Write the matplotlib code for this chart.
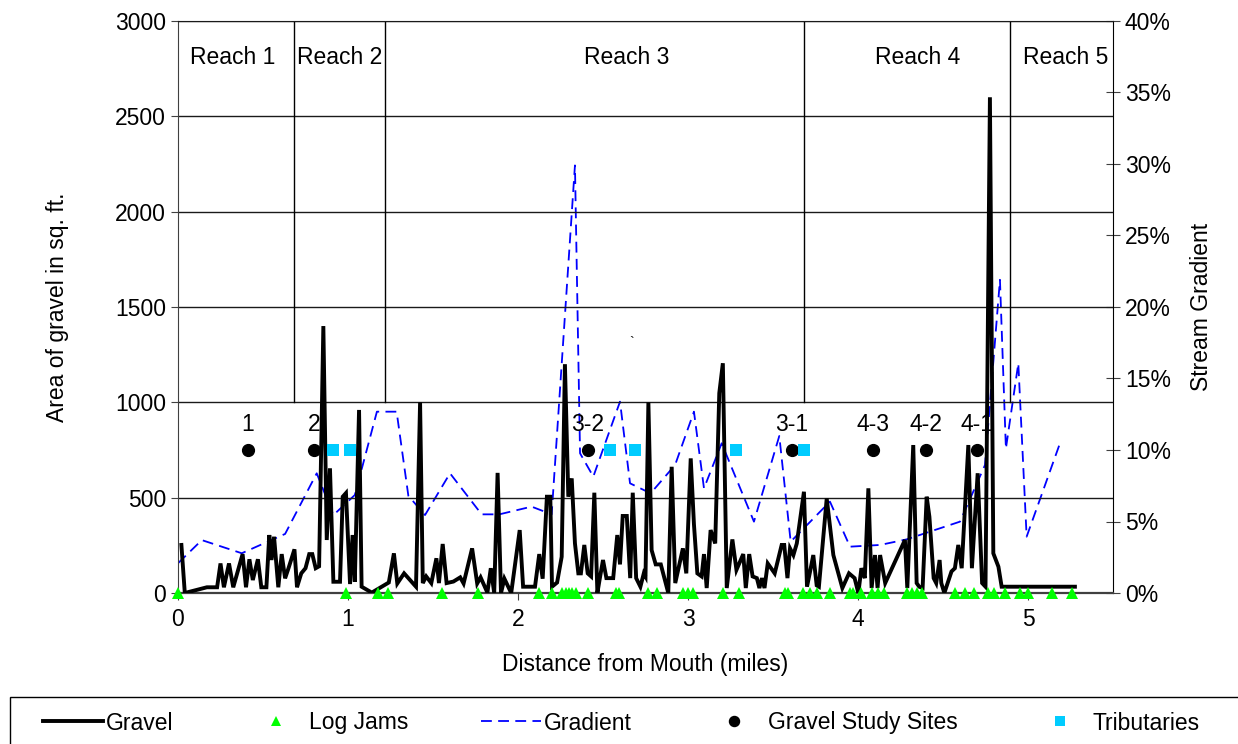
import matplotlib
matplotlib.use('Agg')
import matplotlib.pyplot as plt
from matplotlib.patches import Rectangle
from matplotlib.ticker import FuncFormatter, MultipleLocator

plt.rcParams['font.family'] = ['Liberation Sans', 'DejaVu Sans']

# ---------------- data ----------------
gravel_miles = [0.02, 0.04, 0.17, 0.23, 0.25, 0.27, 0.30, 0.325, 0.38, 0.40, 0.42, 0.44, 0.47, 0.49,
                0.52, 0.537, 0.55, 0.565, 0.59, 0.61, 0.63, 0.65, 0.685, 0.70, 0.725, 0.75, 0.772,
                0.79, 0.81, 0.83, 0.855, 0.875, 0.894, 0.914, 0.953, 0.969, 0.988, 1.012, 1.027,
                1.04, 1.065, 1.08, 1.14, 1.24, 1.27, 1.29, 1.33, 1.40, 1.424, 1.44, 1.46, 1.49,
                1.52, 1.535, 1.557, 1.58, 1.62, 1.66, 1.68, 1.73, 1.76, 1.78, 1.82, 1.84, 1.86,
                1.88, 1.90, 1.92, 1.96, 2.01, 2.03, 2.10, 2.125, 2.145, 2.17, 2.19, 2.20, 2.23,
                2.257, 2.276, 2.296, 2.316, 2.335, 2.355, 2.37, 2.39, 2.41, 2.43, 2.449, 2.467,
                2.48, 2.50, 2.52, 2.56, 2.584, 2.60, 2.616, 2.64, 2.66, 2.675, 2.695, 2.72, 2.74,
                2.75, 2.767, 2.786, 2.81, 2.84, 2.884, 2.904, 2.925, 2.97, 2.99, 3.016, 3.035,
                3.055, 3.08, 3.094, 3.11, 3.133, 3.16, 3.184, 3.205, 3.228, 3.261, 3.285, 3.325,
                3.34, 3.36, 3.38, 3.405, 3.42, 3.435, 3.45, 3.469, 3.51, 3.551, 3.566, 3.585,
                3.60, 3.62, 3.64, 3.682, 3.70, 3.72, 3.737, 3.757, 3.77, 3.816, 3.855, 3.908,
                3.947, 3.98, 4.002, 4.02, 4.04, 4.061, 4.08, 4.10, 4.115, 4.13, 4.16, 4.276,
                4.29, 4.325, 4.345, 4.36, 4.38, 4.404, 4.42, 4.445, 4.46, 4.48, 4.49, 4.508,
                4.55, 4.57, 4.59, 4.61, 4.649, 4.67, 4.704, 4.73, 4.75, 4.776, 4.796, 4.826,
                4.845, 5.276]
gravel_sqft = [252, 0, 30, 30, 155, 30, 155, 30, 204, 30, 177, 68, 177, 30,
               30, 304, 173, 295, 30, 204, 77, 130, 229, 30, 103, 130, 204,
               204, 130, 140, 1400, 278, 654, 59, 59, 505, 524, 47, 304,
               59, 960, 33, 2, 55, 208, 50, 103, 33, 1000, 52, 87, 52,
               182, 52, 257, 52, 60, 82, 50, 234, 50, 82, 2, 130, 0,
               630, 0, 75, 0, 330, 33, 33, 204, 75, 505, 505, 33, 55,
               190, 1200, 505, 601, 260, 103, 103, 252, 103, 87, 526, 0,
               70, 173, 78, 78, 304, 150, 404, 404, 78, 526, 78, 33, 103,
               87, 1000, 225, 150, 150, 0, 662, 52, 234, 103, 706, 360,
               103, 87, 204, 26, 330, 260, 1048, 1205, 26, 281, 121, 204,
               26, 204, 87, 78, 26, 78, 26, 155, 103, 252, 252, 78,
               234, 199, 260, 531, 33, 121, 199, 40, 33, 496, 199, 26,
               103, 78, 0, 130, 78, 549, 26, 199, 26, 199, 52, 278,
               26, 776, 52, 33, 26, 505, 400, 78, 52, 173, 52, 0,
               113, 130, 252, 130, 776, 130, 628, 52, 33, 2600, 208, 138,
               33, 33]

gradient_miles = [0.0, 0.14, 0.375, 0.63, 0.816, 0.914, 1.04, 1.17, 1.286, 1.355, 1.453, 1.60,
                  1.786, 1.89, 2.08, 2.198, 2.335, 2.365, 2.443, 2.60, 2.659, 2.78, 2.924,
                  3.035, 3.094, 3.198, 3.388, 3.537, 3.604, 3.835, 3.953, 4.13, 4.286, 4.60,
                  4.747, 4.835, 4.87, 4.943, 4.992, 5.188]
gradient_pct = [2.08, 3.7, 2.78, 4.13, 8.37, 5.45, 6.85, 12.68, 12.68, 6.8, 5.45, 8.37,
                5.5, 5.5, 6.04, 5.5, 29.9, 9.77, 8.14, 13.38, 7.67, 6.97, 8.95,
                12.68, 7.32, 10.47, 4.99, 10.98, 3.59, 6.39, 3.24, 3.36, 3.75, 4.99,
                8.95, 21.9, 10.1, 16.06, 3.94, 10.47]

logjam_miles = [0.0, 0.988, 1.178, 1.237, 1.555, 1.767, 2.125, 2.198, 2.26, 2.28, 2.30, 2.32,
                2.34, 2.41, 2.575, 2.595, 2.766, 2.82, 2.97, 3.0, 3.03, 3.204, 3.30, 3.57,
                3.59, 3.678, 3.72, 3.76, 3.835, 3.953, 3.97, 4.02, 4.08, 4.12, 4.155, 4.286,
                4.316, 4.345, 4.375, 4.57, 4.63, 4.684, 4.767, 4.80, 4.865, 4.953, 5.002,
                5.14, 5.257]
logjam_level = 0

site_miles = [0.41, 0.80, 2.41, 3.61, 4.09, 4.40, 4.70]
site_labels = ['1', '2', '3-2', '3-1', '4-3', '4-2', '4-1']
site_level = 750

tributary_miles = [0.91, 1.01, 2.54, 2.69, 3.28, 3.68]
tributary_level = 750

reach_bounds = [0.682, 1.218, 3.682, 4.894]
reach_names = ['Reach 1', 'Reach 2', 'Reach 3', 'Reach 4', 'Reach 5']
reach_centers = [0.324, 0.953, 2.64, 4.35, 5.22]

# ---------------- figure ----------------
W, H = 1238, 744
fig = plt.figure(figsize=(W / 100, H / 100), dpi=100)
ax1 = fig.add_axes([178 / W, 1 - 593 / H, (1113 - 178) / W, (593 - 21) / H])
ax2 = ax1.twinx()
ax1.set_zorder(ax2.get_zorder() + 1)
ax1.patch.set_visible(False)

FS = 16.5

ax1.set_xlim(0, 5.5)
ax1.set_ylim(0, 3000)
ax2.set_ylim(0, 40)

# grid lines
for yv in range(500, 3001, 500):
    ax1.axhline(yv, color='#1a1a1a', lw=1.0, zorder=0.5)

# reach boundaries
for xb in reach_bounds:
    ax1.plot([xb, xb], [1000, 3000], color='black', lw=1.0, zorder=0.6)
for name, xc in zip(reach_names, reach_centers):
    ax1.text(xc, 2810, name, ha='center', va='center', fontsize=FS)

ax1.text(2.67, 1310, '`', ha='center', va='center', fontsize=10)

# series
gravel_line, = ax1.plot(gravel_miles, gravel_sqft, color='black', lw=2.8,
                        solid_joinstyle='miter', zorder=3, label='Gravel')
grad_line, = ax2.plot(gradient_miles, gradient_pct, color='#0000ff', lw=1.3,
                      dashes=(6, 3.5), zorder=2, label='Gradient')
logjams, = ax1.plot(logjam_miles, [logjam_level] * len(logjam_miles), ls='none', marker='^',
                    color='#00ff00', markersize=9, markeredgewidth=0, zorder=4,
                    clip_on=False, label='Log Jams')
sites, = ax1.plot(site_miles, [site_level] * len(site_miles), ls='none', marker='o',
                  color='black', markersize=8.5, zorder=5, label='Gravel Study Sites')
tribs, = ax1.plot(tributary_miles, [tributary_level] * len(tributary_miles), ls='none',
                  marker='s', color='#00ccff', markersize=8, markeredgewidth=0, zorder=5,
                  label='Tributaries')
for xm, lab in zip(site_miles, site_labels):
    ax1.annotate(lab, (xm, site_level), xytext=(0, 10), textcoords='offset points',
                 ha='center', va='bottom', fontsize=FS)

# axes styling
ax1.yaxis.set_major_locator(MultipleLocator(500))
ax1.xaxis.set_major_locator(MultipleLocator(1))
ax2.yaxis.set_major_locator(MultipleLocator(5))
ax2.yaxis.set_major_formatter(FuncFormatter(lambda v, p: f'{v:.0f}%'))
ax1.tick_params(axis='both', labelsize=FS, direction='out', length=5, color='#404040')
ax1.tick_params(axis='x', pad=6)
ax2.tick_params(axis='y', labelsize=FS, direction='inout', length=10, color='#404040')
for sp in ['left', 'bottom', 'top']:
    ax2.spines[sp].set_visible(False)
ax1.spines['right'].set_visible(False)
ax2.spines['right'].set_color('black')
ax1.spines['left'].set_color('#404040')
ax1.spines['bottom'].set_color('#404040')
ax1.spines['bottom'].set_linewidth(1.6)
ax1.spines['top'].set_color('#1a1a1a')

ax1.set_xlabel('Distance from Mouth (miles)', fontsize=FS, labelpad=16)
ax1.set_ylabel('Area of gravel in sq. ft.', fontsize=FS, labelpad=33)
ax2.set_ylabel('Stream Gradient', fontsize=FS, labelpad=14)

# legend
fig.add_artist(Rectangle((10 / W, -0.05), 1.2, (1 - 697 / H) + 0.05, transform=fig.transFigure,
                         fill=False, edgecolor='black', lw=1.0))
fig.legend([gravel_line, logjams, grad_line, sites, tribs],
           ['Gravel', 'Log Jams', 'Gradient', 'Gravel Study Sites', 'Tributaries'],
           loc='center', bbox_to_anchor=(43 / W, 1 - 733 / H, (1200 - 43) / W, 20 / H),
           mode='expand', ncol=5, frameon=False, borderaxespad=0, borderpad=0,
           handlelength=2.6, handletextpad=0.15, fontsize=FS, numpoints=1,
           markerscale=0.85)

fig.savefig('out.png', dpi=100)
